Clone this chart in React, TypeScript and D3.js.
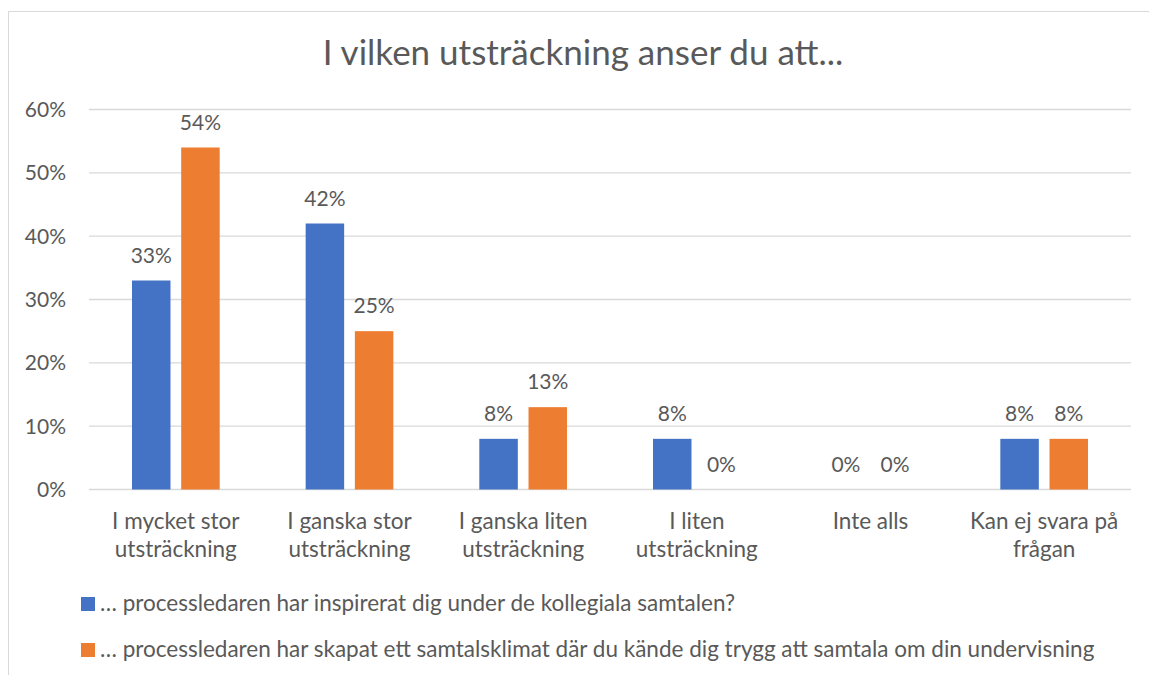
import React, { useEffect, useRef } from "react";
import * as d3 from "d3";

const title = "I vilken utsträckning anser du att...";

const categories = [
  ["I mycket stor", "utsträckning"],
  ["I ganska stor", "utsträckning"],
  ["I ganska liten", "utsträckning"],
  ["I liten", "utsträckning"],
  ["Inte alls"],
  ["Kan ej svara på", "frågan"],
];

const seriesNames = [
  "… processledaren har inspirerat dig under de kollegiala samtalen?",
  "… processledaren har skapat ett samtalsklimat där du kände dig trygg att samtala om din undervisning",
];

const inspirerat = [33, 42, 8, 8, 0, 8];
const samtalsklimat = [54, 25, 13, 0, 0, 8];

const yTicks = [0, 10, 20, 30, 40, 50, 60];

const colors = ["#4472C4", "#ED7D31"];

const W = 1149;
const H = 675;
const FONT = "Lato, 'Open Sans', sans-serif";
const TEXT = "#595959";
const NUM_SIZE = 21;
const LABEL_SIZE = 22.5;

export default function App() {
  const ref = useRef<SVGSVGElement>(null);

  useEffect(() => {
    const svg = d3.select(ref.current);
    svg.selectAll("*").remove();

    // rama runt diagrammet
    svg
      .append("rect")
      .attr("x", 8.5)
      .attr("y", 11.5)
      .attr("width", W + 20)
      .attr("height", H + 20)
      .attr("fill", "white")
      .attr("stroke", "#d9d9d9")
      .attr("stroke-width", 1);

    const left = 89;
    const right = 1131;
    const y = d3.scaleLinear().domain([0, 60]).range([489.5, 109.5]);

    const keys = categories.map((c) => c.join(" "));
    const x0 = d3.scaleBand().domain(keys).range([left, right]).padding(0);
    const groupW = 87.7;
    const x1 = d3
      .scaleBand()
      .domain(["0", "1"])
      .range([-groupW / 2, groupW / 2])
      .paddingInner(0.2175);

    // titel
    svg
      .append("text")
      .attr("x", 583)
      .attr("y", 65)
      .attr("text-anchor", "middle")
      .attr("font-family", FONT)
      .attr("font-size", 35)
      .attr("fill", TEXT)
      .text(title);

    // rutnät
    svg
      .append("g")
      .selectAll("line")
      .data(yTicks)
      .enter()
      .append("line")
      .attr("x1", left)
      .attr("x2", right)
      .attr("y1", (d) => y(d))
      .attr("y2", (d) => y(d))
      .attr("stroke", "#d9d9d9")
      .attr("stroke-width", 1.3);

    // y-etiketter
    svg
      .append("g")
      .selectAll("text")
      .data(yTicks)
      .enter()
      .append("text")
      .attr("x", 66)
      .attr("y", (d) => y(d))
      .attr("dy", "0.35em")
      .attr("text-anchor", "end")
      .attr("font-family", FONT)
      .attr("font-size", NUM_SIZE)
      .attr("fill", TEXT)
      .text((d) => d + "%");

    const series = [inspirerat, samtalsklimat];
    series.forEach((vals, si) => {
      const g = svg.append("g");
      const pts = vals.map((v, i) => ({ v, key: keys[i] }));
      g.selectAll("rect")
        .data(pts)
        .enter()
        .append("rect")
        .attr("x", (d) => x0(d.key)! + x0.bandwidth() / 2 + x1(String(si))!)
        .attr("y", (d) => y(d.v))
        .attr("width", x1.bandwidth())
        .attr("height", (d) => y(0) - y(d.v))
        .attr("fill", colors[si]);

      g.selectAll("text")
        .data(pts)
        .enter()
        .append("text")
        .attr("x", (d) => x0(d.key)! + x0.bandwidth() / 2 + x1(String(si))! + x1.bandwidth() / 2)
        .attr("y", (d) => y(d.v) - 18)
        .attr("text-anchor", "middle")
        .attr("font-family", FONT)
        .attr("font-size", NUM_SIZE)
        .attr("fill", TEXT)
        .text((d) => d.v + "%");
    });

    // kategorietiketter
    const cat = svg
      .append("g")
      .selectAll("text")
      .data(categories)
      .enter()
      .append("text")
      .attr("x", (d) => x0(d.join(" "))! + x0.bandwidth() / 2)
      .attr("y", 529)
      .attr("text-anchor", "middle")
      .attr("font-family", FONT)
      .attr("font-size", LABEL_SIZE)
      .attr("fill", TEXT);
    cat
      .selectAll("tspan")
      .data((d) => d.map((t, i) => ({ t, i })))
      .enter()
      .append("tspan")
      .attr("x", function () {
        return (this as any).parentNode.getAttribute("x");
      })
      .attr("dy", (d) => (d.i === 0 ? 0 : 28))
      .text((d) => d.t);

    // förklaring
    const leg = svg
      .append("g")
      .selectAll("g")
      .data(seriesNames)
      .enter()
      .append("g")
      .attr("transform", (_, i) => `translate(81, ${597 + i * 46})`);
    leg
      .append("rect")
      .attr("width", 14)
      .attr("height", 14)
      .attr("fill", (_, i) => colors[i]);
    leg
      .append("text")
      .attr("x", 19)
      .attr("y", 14)
      .attr("font-family", FONT)
      .attr("font-size", LABEL_SIZE)
      .attr("fill", TEXT)
      .text((d) => d);
  }, []);

  return (
    <svg
      ref={ref}
      width={W}
      height={H}
      style={{ position: "absolute", left: 0, top: 0, display: "block" }}
    />
  );
}
